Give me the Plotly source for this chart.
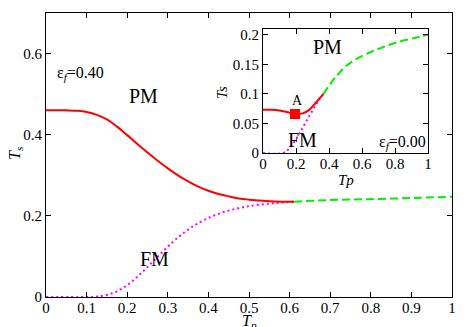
import plotly.graph_objects as go

# ---- main panel (eps_f = 0.40) ----
main_red_tp = [0, 0.05, 0.08, 0.1, 0.125, 0.15, 0.175, 0.2, 0.225, 0.25, 0.275, 0.3, 0.325,
               0.35, 0.375, 0.4, 0.425, 0.45, 0.475, 0.5, 0.525, 0.55, 0.58, 0.611]
main_red_ts = [0.46, 0.46, 0.459, 0.456, 0.449, 0.438, 0.42, 0.399, 0.377, 0.356, 0.336, 0.317, 0.3,
               0.285, 0.272, 0.262, 0.254, 0.248, 0.243, 0.24, 0.238, 0.236, 0.235, 0.235]
main_mag_tp = [0, 0.1, 0.125, 0.15, 0.175, 0.2, 0.225, 0.25, 0.275, 0.3, 0.325, 0.35, 0.375,
               0.4, 0.425, 0.45, 0.475, 0.5, 0.55, 0.611]
main_mag_ts = [0, 0, 0.001, 0.005, 0.014, 0.029, 0.05, 0.074, 0.099, 0.124, 0.147, 0.166, 0.182,
               0.195, 0.205, 0.213, 0.219, 0.224, 0.23, 0.235]
main_grn_tp = [0.611, 0.7, 0.79, 0.9, 1.0]
main_grn_ts = [0.235, 0.239, 0.241, 0.244, 0.247]

# ---- inset (eps_f = 0.00) ----
ins_red_tp = [0, 0.05, 0.1, 0.15, 0.194, 0.24, 0.28, 0.32, 0.365]
ins_red_ts = [0.073, 0.0732, 0.072, 0.069, 0.066, 0.067, 0.073, 0.085, 0.0995]
ins_mag_tp = [0, 0.12, 0.16, 0.214, 0.245, 0.275, 0.305, 0.335, 0.365]
ins_mag_ts = [0, 0, 0.008, 0.03, 0.045, 0.06, 0.074, 0.088, 0.0995]
ins_grn_tp = [0.365, 0.406, 0.436, 0.507, 0.608, 0.709, 0.81, 0.911, 1.0]
ins_grn_ts = [0.0995, 0.116, 0.127, 0.148, 0.165, 0.177, 0.187, 0.194, 0.2]
point_A_tp = [0.194]
point_A_ts = [0.066]

main_xticks = [0, 0.1, 0.2, 0.3, 0.4, 0.5, 0.6, 0.7, 0.8, 0.9, 1]
main_xtext = ["0", "0.1", "0.2", "0.3", "0.4", "0.5", "0.6", "0.7", "0.8", "0.9", "1"]
main_yticks = [0, 0.2, 0.4, 0.6]
main_ytext = ["0", "0.2", "0.4", "0.6"]
ins_xticks = [0, 0.2, 0.4, 0.6, 0.8, 1]
ins_xtext = ["0", "0.2", "0.4", "0.6", "0.8", "1"]
ins_yticks = [0, 0.05, 0.1, 0.15, 0.2]
ins_ytext = ["0", "0.05", "0.1", "0.15", "0.2"]

RED = "#ff0000"
GRN = "#00ee00"
MAG = "#ff00ff"
FONT = "Liberation Serif"

W, H = 467, 327
L, R, T, B = 46, 452, 11, 299


def P(x, y):
    return (x - L) / (R - L), (B - y) / (B - T)


fig = go.Figure()


def line(x, y, color, dash, xa="x", ya="y", width=2):
    fig.add_trace(go.Scatter(x=x, y=y, mode="lines", xaxis=xa, yaxis=ya,
                             line=dict(color=color, width=width, dash=dash, shape="spline", smoothing=1.0),
                             showlegend=False, hoverinfo="skip"))


line(main_mag_tp, main_mag_ts, MAG, "2px,3px")
line(main_red_tp, main_red_ts, RED, "solid")
line(main_grn_tp, main_grn_ts, GRN, "8px,4px")
line(ins_mag_tp, ins_mag_ts, MAG, "2px,3px", "x2", "y2")
line(ins_red_tp, ins_red_ts, RED, "solid", "x2", "y2")
line(ins_grn_tp, ins_grn_ts, GRN, "8px,4px", "x2", "y2")
fig.add_trace(go.Scatter(x=point_A_tp, y=point_A_ts, mode="markers", xaxis="x2", yaxis="y2",
                         marker=dict(symbol="square", size=10, color=RED),
                         showlegend=False, hoverinfo="skip"))


def axis(**kw):
    d = dict(showline=True, linecolor="black", linewidth=1, mirror="ticks",
             ticks="inside", ticklen=5, tickwidth=1, tickcolor="black",
             showgrid=False, zeroline=False,
             tickfont=dict(family=FONT, size=15, color="black"))
    d.update(kw)
    return d


ix0, iy1 = P(263, 27)
ix1, iy0 = P(428, 153)

fig.update_layout(
    width=W, height=H,
    margin=dict(l=L, r=W - R, t=T, b=H - B),
    paper_bgcolor="white", plot_bgcolor="white",
    font=dict(family=FONT, size=15, color="black"),
    xaxis=axis(range=[0, 1], tickvals=main_xticks, ticktext=main_xtext, domain=[0, 1],
               ticklabelstandoff=-3),
    yaxis=axis(range=[0, 0.7], tickvals=main_yticks, ticktext=main_ytext, domain=[0, 1]),
    xaxis2=axis(range=[0, 1], tickvals=ins_xticks, ticktext=ins_xtext, domain=[ix0, ix1],
                anchor="y2", ticklabelstandoff=-3),
    yaxis2=axis(range=[0, 0.21], tickvals=ins_yticks, ticktext=ins_ytext, domain=[iy0, iy1],
                anchor="x2"),
)


def ann(px, py, text, size, angle=0, xanchor="center", yanchor="middle"):
    x, y = P(px, py)
    fig.add_annotation(x=x, y=y, xref="paper", yref="paper", text=text, showarrow=False,
                       textangle=angle, xanchor=xanchor, yanchor=yanchor,
                       font=dict(family=FONT, size=size, color="black"))


ann(55, 72, "ε<sub><i>f</i></sub>=0.40", 16, xanchor="left")
ann(143, 95, "PM", 20)
ann(154, 260, "FM", 20)
ann(327, 45, "PM", 20)
ann(297, 100, "A", 14)
ann(302, 140, "FM", 20)
ann(428, 142, "ε<sub><i>f</i></sub>=0.00", 16, xanchor="right")
ann(15, 153, "<i>T</i><sub><i>s</i></sub>", 16, angle=-90)
ann(249, 312, "<i>T</i><sub><i>p</i></sub>", 16, yanchor="top")
ann(222, 92, "<i>Ts</i>", 15, angle=-90)
ann(346, 170, "<i>Tp</i>", 15, yanchor="top")

fig.write_html("out.html", post_script="document.body.style.margin='0px';",
               config={"displayModeBar": False})
